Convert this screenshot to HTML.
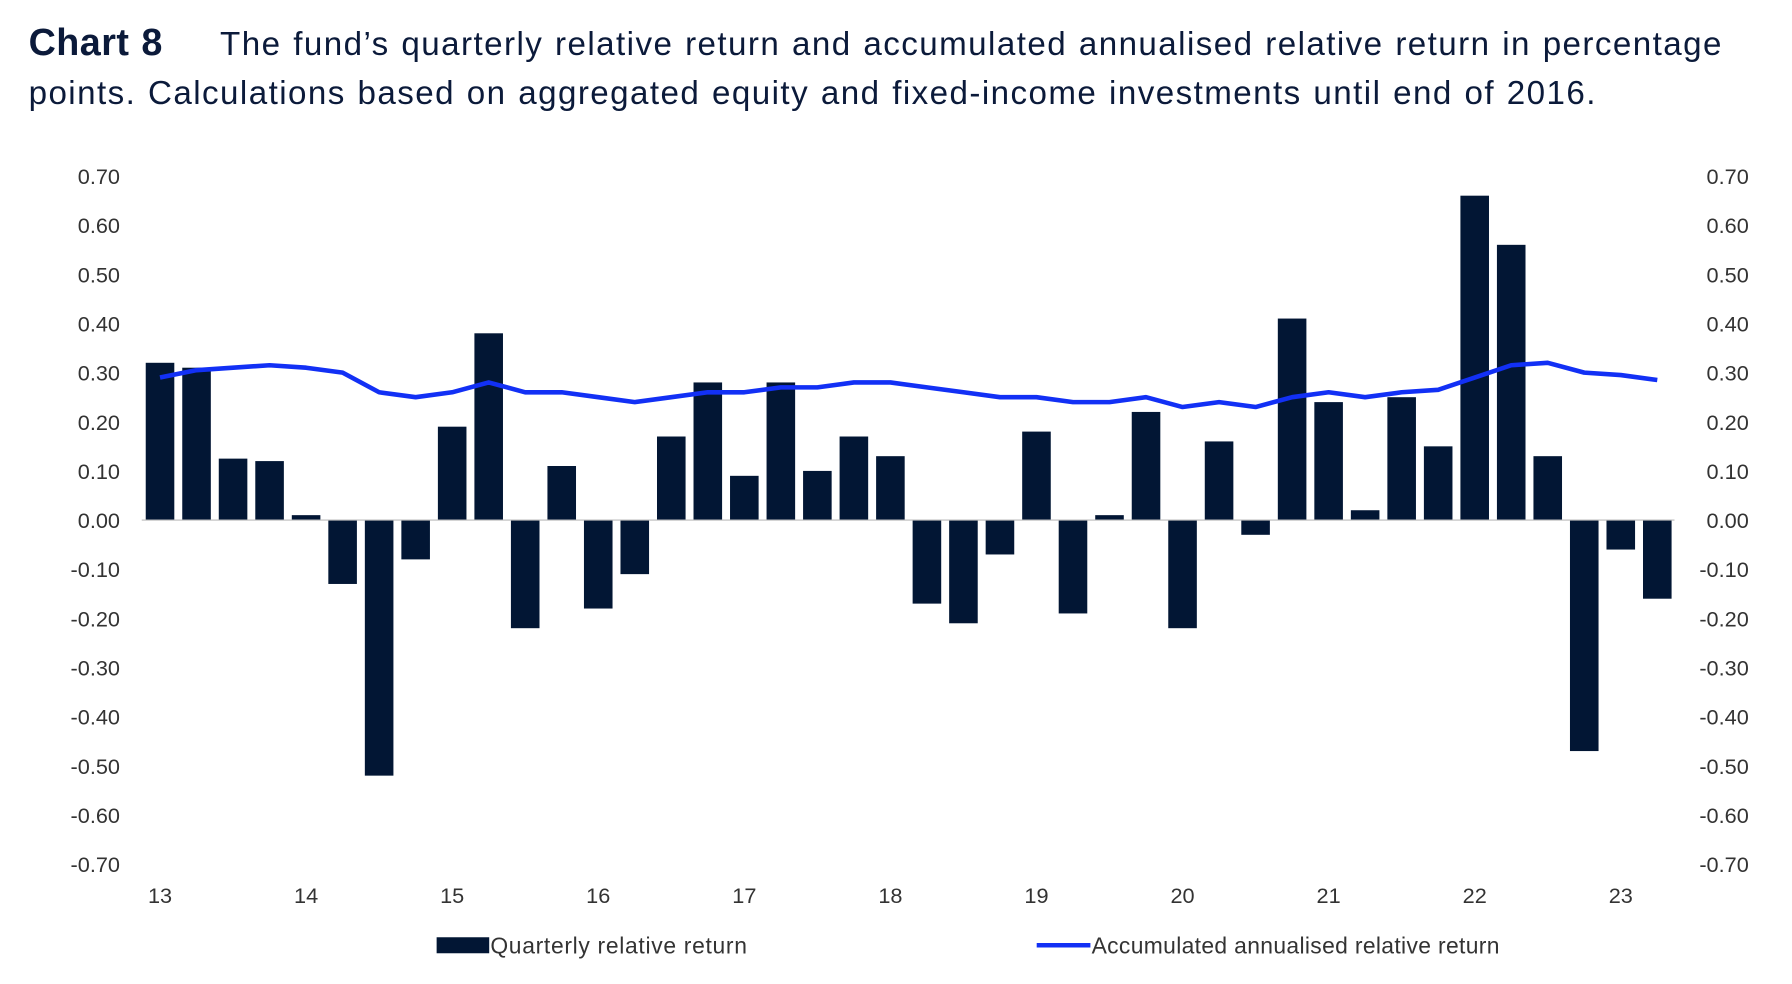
<!DOCTYPE html>
<html><head><meta charset="utf-8"><style>
html,body{margin:0;padding:0;background:#fff;width:1792px;height:984px;overflow:hidden}
#wrap{width:1568px;height:861px;transform:scale(1.143);transform-origin:0 0;position:relative;font-family:"Liberation Sans",sans-serif}
#title{position:absolute;left:25px;top:15px;width:1530px;font-size:29px;line-height:43px;color:#0b1a3a;letter-spacing:1.25px;word-spacing:1px}
#title b{margin-right:50px;font-size:33px;letter-spacing:0.4px}
</style></head><body>
<div id="wrap">
<div id="title"><b>Chart 8</b>The fund’s quarterly relative return and accumulated annualised relative return in percentage points. Calculations based on aggregated equity and fixed-income investments until end of 2016.</div>
<svg id="chart" width="1568" height="861" style="position:absolute;left:0;top:0"></svg>
</div>
<script>
const bars = [0.32,0.31,0.125,0.12, 0.01,-0.13,-0.52,-0.08, 0.19,0.38,-0.22,0.11, -0.18,-0.11,0.17,0.28, 0.09,0.28,0.10,0.17, 0.13,-0.17,-0.21,-0.07, 0.18,-0.19,0.01,0.22, -0.22,0.16,-0.03,0.41, 0.24,0.02,0.25,0.15, 0.66,0.56,0.13,-0.47, -0.06,-0.16];
const line = [0.29,0.305,0.31,0.315,0.31,0.30,0.26,0.25,0.26,0.28,0.26,0.26,0.25,0.24,0.25,0.26,0.26,0.27,0.27,0.28,0.28,0.27,0.26,0.25,0.25,0.24,0.24,0.25,0.23,0.24,0.23,0.25,0.26,0.25,0.26,0.265,0.29,0.315,0.32,0.30,0.295,0.285];
const yTicks = [0.7,0.6,0.5,0.4,0.3,0.2,0.1,0,-0.1,-0.2,-0.3,-0.4,-0.5,-0.6,-0.7];
const xLabels = ["13","14","15","16","17","18","19","20","21","22","23"];
const NS="http://www.w3.org/2000/svg";
const svg=document.getElementById('chart');
const y=v=>455-v*430;
const x=i=>140+i*31.95;
function mk(t,a){const e=document.createElementNS(NS,t);for(const k in a)e.setAttribute(k,a[k]);svg.appendChild(e);return e;}
yTicks.forEach(v=>{
  const s=v.toFixed(2);
  let t=mk('text',{x:105,y:y(v)+7,'text-anchor':'end','font-size':19,fill:'#333'});t.textContent=s;
  
  
  t=mk('text',{x:1530,y:y(v)+7,'text-anchor':'end','font-size':19,fill:'#333'});t.textContent=s;
  
  
});
bars.forEach((v,i)=>{
  const r=mk('rect',{x:x(i)-12.5,y:Math.min(y(v),y(0)),width:25,height:Math.abs(y(v)-y(0)),fill:'#021634'});
  
  
});
const ax=mk('line',{x1:124,x2:1465,y1:y(0),y2:y(0),stroke:'#bbb','stroke-width':1});


const p=mk('polyline',{points:line.map((v,i)=>x(i)+','+y(v)).join(' '),fill:'none',stroke:'#1230f5','stroke-width':4,'stroke-linejoin':'round'});


xLabels.forEach((l,i)=>{
  const t=mk('text',{x:x(i*4),y:790,'text-anchor':'middle','font-size':19,fill:'#333'});t.textContent=l;
  
  
});
let g=mk('rect',{x:382,y:820,width:46,height:14,fill:'#021634'});


g=mk('text',{x:429,y:834,'font-size':20,fill:'#333','letter-spacing':0.6});g.textContent='Quarterly relative return';


g=mk('line',{x1:907,x2:954,y1:827,y2:827,stroke:'#1230f5','stroke-width':4});


g=mk('text',{x:955,y:834,'font-size':20,fill:'#333','letter-spacing':0.3});g.textContent='Accumulated annualised relative return';


</script>
</body></html>
